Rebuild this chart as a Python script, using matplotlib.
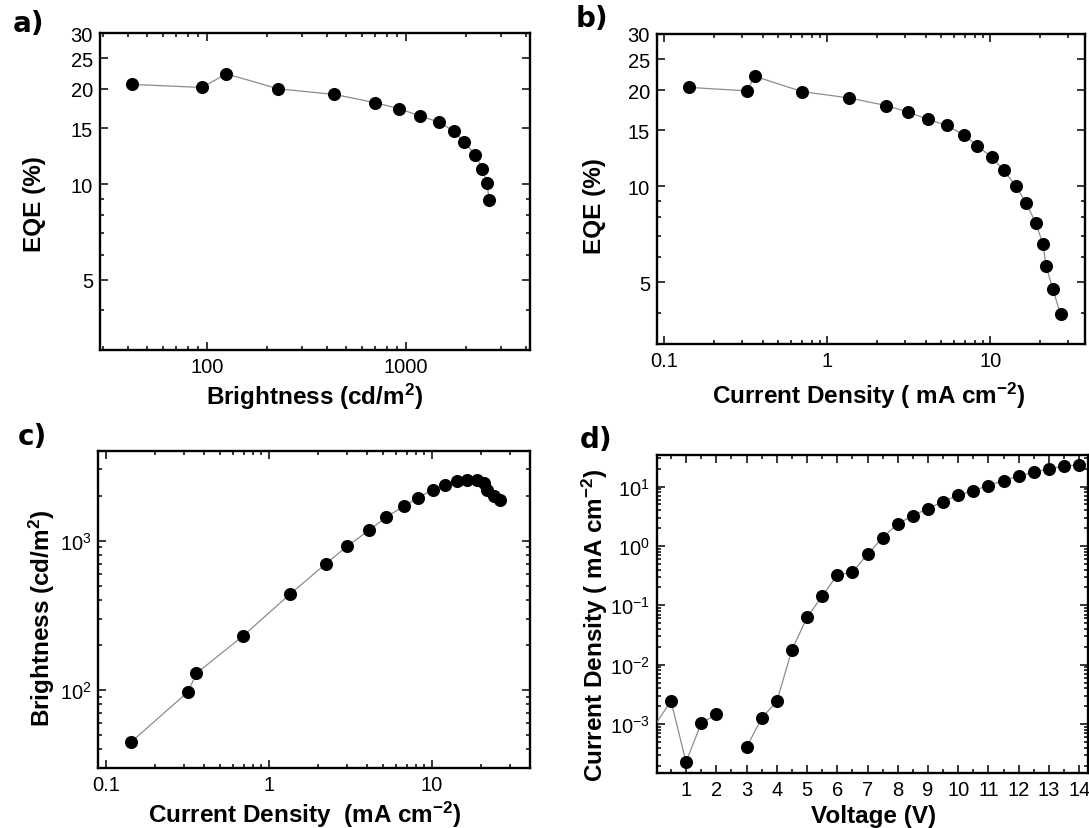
import numpy as np
import matplotlib
matplotlib.use('Agg')
import matplotlib.pyplot as plt
from matplotlib.ticker import LogLocator, NullFormatter, FixedLocator

# ---------------- data ----------------
# a) EQE vs brightness
brightness_a = [42.2, 94.2, 125.3, 228, 437, 697, 927, 1183, 1470, 1735, 1963, 2226, 2412, 2560, 2611]
eqe_a = [20.65, 20.2, 22.3, 20.0, 19.2, 18.1, 17.3, 16.4, 15.7, 14.7, 13.6, 12.4, 11.2, 10.07, 8.93]

# b) EQE vs current density
current_b = [0.142, 0.319, 0.359, 0.698, 1.36, 2.29, 3.10, 4.14, 5.38, 6.84,
             8.29, 10.2, 12.1, 14.3, 16.5, 18.9, 21.0, 21.9, 24.1, 26.9]
eqe_b = [20.4, 19.9, 22.1, 19.8, 18.9, 17.9, 17.1, 16.2, 15.5, 14.5,
         13.4, 12.3, 11.2, 10.0, 8.88, 7.69, 6.59, 5.63, 4.77, 3.96]

# c) brightness vs current density
current_c = [0.142, 0.319, 0.359, 0.698, 1.35, 2.23, 3.03, 4.12, 5.26, 6.76,
             8.24, 10.1, 12.0, 14.2, 16.4, 18.9, 20.9, 21.8, 23.9, 26.3]
brightness_c = [44.5, 97, 129, 231, 439, 697, 920, 1172, 1439, 1704,
                1940, 2182, 2356, 2506, 2559, 2533, 2445, 2182, 2000, 1861]

# d) current density vs voltage (nan = no reading)
voltage_d = [0, 0.5, 1, 1.5, 2, 2.5, 3, 3.5, 4, 4.5, 5, 5.5, 6, 6.5, 7, 7.5,
             8, 8.5, 9, 9.5, 10, 10.5, 11, 11.5, 12, 12.5, 13, 13.5, 14]
current_d = [1.0e-3, 2.47e-3, 2.3e-4, 1.03e-3, 1.47e-3, np.nan, 4.05e-4, 1.26e-3, 2.41e-3,
             0.0177, 0.0628, 0.142, 0.325, 0.36, 0.724, 1.38, 2.35, 3.25, 4.26, 5.59,
             7.14, 8.56, 10.4, 12.6, 15.0, 17.5, 19.9, 22.1, 23.2]

eqe_ticks = [5, 10, 15, 20, 25, 30]
brightness_ticks = [100, 1000]
current_ticks = [0.1, 1, 10]
voltage_ticks = [1, 2, 3, 4, 5, 6, 7, 8, 9, 10, 11, 12, 13, 14]

# ---------------- style ----------------
plt.rcParams['font.family'] = ['Liberation Sans', 'DejaVu Sans']
plt.rcParams['mathtext.fontset'] = 'custom'
plt.rcParams['mathtext.rm'] = 'Liberation Sans'
plt.rcParams['mathtext.bf'] = 'Liberation Sans:bold'
plt.rcParams['mathtext.default'] = 'regular'

W, H = 1089, 829
fig = plt.figure(figsize=(W / 100, H / 100), dpi=100)


def axes_px(l, r, t, b):
    return fig.add_axes([l / W, 1 - b / H, (r - l) / W, (b - t) / H])


LINE = dict(color='#8c8c8c', lw=0.9, marker='o', ms=8.4, mfc='black', mec='black', zorder=3)
LABEL = dict(fontsize=17.5, fontweight='bold')


def style(ax):
    for s in ax.spines.values():
        s.set_linewidth(1.7)
    ax.tick_params(which='both', direction='in', top=True, right=True, width=1.1,
                   labelsize=14.5, pad=5, colors='black')
    ax.tick_params(which='major', length=5.5)
    ax.tick_params(which='minor', length=3)


def log_minor(axis):
    axis.set_minor_locator(LogLocator(base=10, subs=np.arange(2, 10), numticks=20))
    axis.set_minor_formatter(NullFormatter())


def place_labels(ax, xpos, ypos):
    ax.xaxis.set_label_coords(*xpos)
    ax.yaxis.set_label_coords(*ypos)
    ax.xaxis.label.set_va('center')
    ax.yaxis.label.set_va('center')


# ---------------- a ----------------
ax = axes_px(100, 530, 34, 351)
ax.plot(brightness_a, eqe_a, **LINE)
ax.set_xscale('log')
ax.set_yscale('log')
ax.set_xlim(29, 4200)
ax.set_ylim(3, 30)
ax.set_xticks(brightness_ticks, labels=[f'{v:g}' for v in brightness_ticks])
ax.set_yticks(eqe_ticks, labels=[f'{v:g}' for v in eqe_ticks])
log_minor(ax.xaxis)
log_minor(ax.yaxis)
style(ax)
ax.set_xlabel('Brightness (cd/m$^\\mathbf{2}$)', **LABEL)
ax.set_ylabel('EQE (%)', **LABEL)
place_labels(ax, (0.5, -0.145), (-0.152, 0.465))

# ---------------- b ----------------
ax = axes_px(657, 1085, 35, 345)
ax.plot(current_b, eqe_b, **LINE)
ax.set_xscale('log')
ax.set_yscale('log')
ax.set_xlim(0.09, 38)
ax.set_ylim(3.2, 30)
ax.set_xticks(current_ticks, labels=[f'{v:g}' for v in current_ticks])
ax.set_yticks(eqe_ticks, labels=[f'{v:g}' for v in eqe_ticks])
log_minor(ax.xaxis)
log_minor(ax.yaxis)
style(ax)
ax.set_xlabel('Current Density ( mA cm$^\\mathbf{-2}$)', **LABEL)
ax.set_ylabel('EQE (%)', **LABEL)
place_labels(ax, (0.494, -0.165), (-0.146, 0.447))

# ---------------- c ----------------
ax = axes_px(98.4, 530, 451.7, 769)
ax.plot(current_c, brightness_c, **LINE)
ax.set_xscale('log')
ax.set_yscale('log')
ax.set_xlim(0.09, 40)
ax.set_ylim(30, 4000)
ax.set_xticks(current_ticks, labels=[f'{v:g}' for v in current_ticks])
log_minor(ax.xaxis)
log_minor(ax.yaxis)
style(ax)
ax.set_xlabel('Current Density  (mA cm$^\\mathbf{-2}$)', **LABEL)
ax.set_ylabel('Brightness (cd/m$^\\mathbf{2}$)', **LABEL)
place_labels(ax, (0.479, -0.145), (-0.131, 0.476))

# ---------------- d ----------------
ax = axes_px(656.7, 1087.7, 456, 774)
ax.plot(voltage_d, current_d, markevery=list(range(1, len(voltage_d))), **LINE)
ax.set_yscale('log')
ax.set_xlim(0.03, 14.28)
ax.set_ylim(1.5e-4, 34)
ax.xaxis.set_major_locator(FixedLocator(voltage_ticks))
ax.xaxis.set_minor_locator(FixedLocator([v + 0.5 for v in [0] + voltage_ticks[:-1]]))
ax.yaxis.set_major_locator(LogLocator(base=10, numticks=20))
log_minor(ax.yaxis)
style(ax)
ax.set_xlabel('Voltage (V)', **LABEL)
ax.set_ylabel('Current Density ( mA cm$^\\mathbf{-2}$)', **LABEL)
place_labels(ax, (0.504, -0.134), (-0.143, 0.469))

# ---------------- panel letters ----------------
LETTER = dict(fontsize=20, fontweight='bold', family='DejaVu Sans', ha='center', va='center')
for txt, (x, y) in zip(['a)', 'b)', 'c)', 'd)'],
                       [(28, 24), (592, 19), (32, 437), (596, 440)]):
    fig.text(x / W, 1 - y / H, txt, **LETTER)

fig.savefig('out.png', dpi=100)
